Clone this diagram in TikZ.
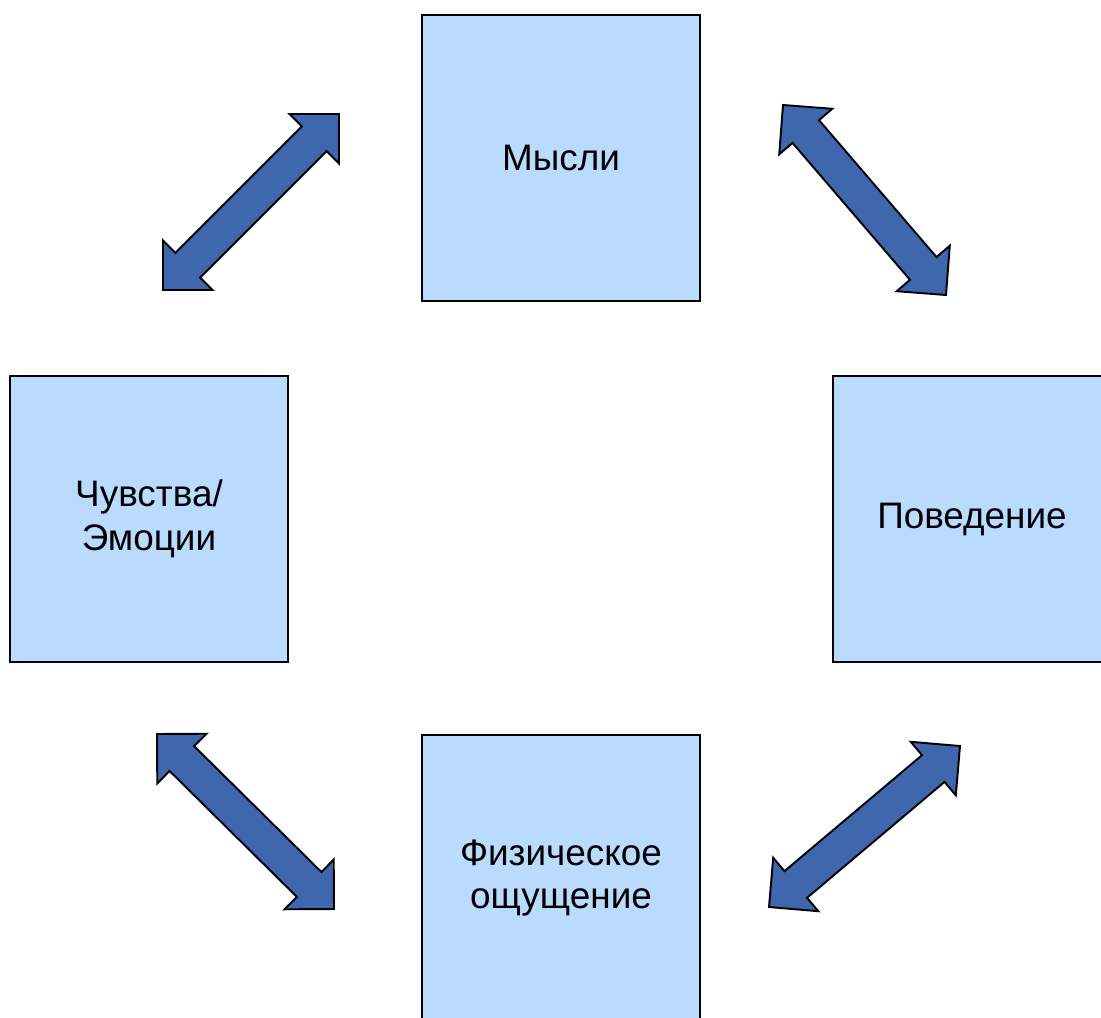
\documentclass[tikz,border=0pt]{standalone}
\usepackage{fontspec}
\setmainfont{Liberation Sans}
\usetikzlibrary{shapes.arrows,calc}

\definecolor{boxfill}{RGB}{186,219,253}
\definecolor{arrfill}{RGB}{63,103,174}

\begin{document}
\begin{tikzpicture}[
        x=0.02cm, y=-0.02cm,
        box/.style={rectangle, draw=black, line width=1.1pt, fill=boxfill,
            minimum width=5.56cm, minimum height=5.72cm, inner sep=0pt,
            align=center, font=\fontsize{21}{25}\selectfont},
        dblarrow/.style={double arrow, draw=black, line width=1.1pt, fill=arrfill,
            double arrow head extend=0.35cm, double arrow tip angle=90,
            inner sep=0.33cm, minimum width=0pt},
    ]

    \useasboundingbox (0,0) rectangle (1101,1017);

    \node[box] (mysli) at (561,158) {Мысли};
    \node[box] (chuv) at (149,519) {Чувства/\\Эмоции};
    \node[box] (pov) at (972,519) {Поведение};
    \node[box] (fiz) at (561,878) {Физическое\\ощущение};

    \coordinate (a1) at (163,290);
    \coordinate (b1) at (339,114);
    \coordinate (a2) at (783,105);
    \coordinate (b2) at (946,295);
    \coordinate (a3) at (157,734);
    \coordinate (b3) at (334,909);
    \coordinate (a4) at (769,907);
    \coordinate (b4) at (960,746);

    \foreach \i in {1,...,4}
        \path let \p1=($(b\i)-(a\i)$), \n1={atan2(\y1,\x1)}, \n2={veclen(\x1,\y1)} in
        node[dblarrow, rotate=\n1, minimum height=\n2] at ($(a\i)!0.5!(b\i)$) {};
\end{tikzpicture}
\end{document}
